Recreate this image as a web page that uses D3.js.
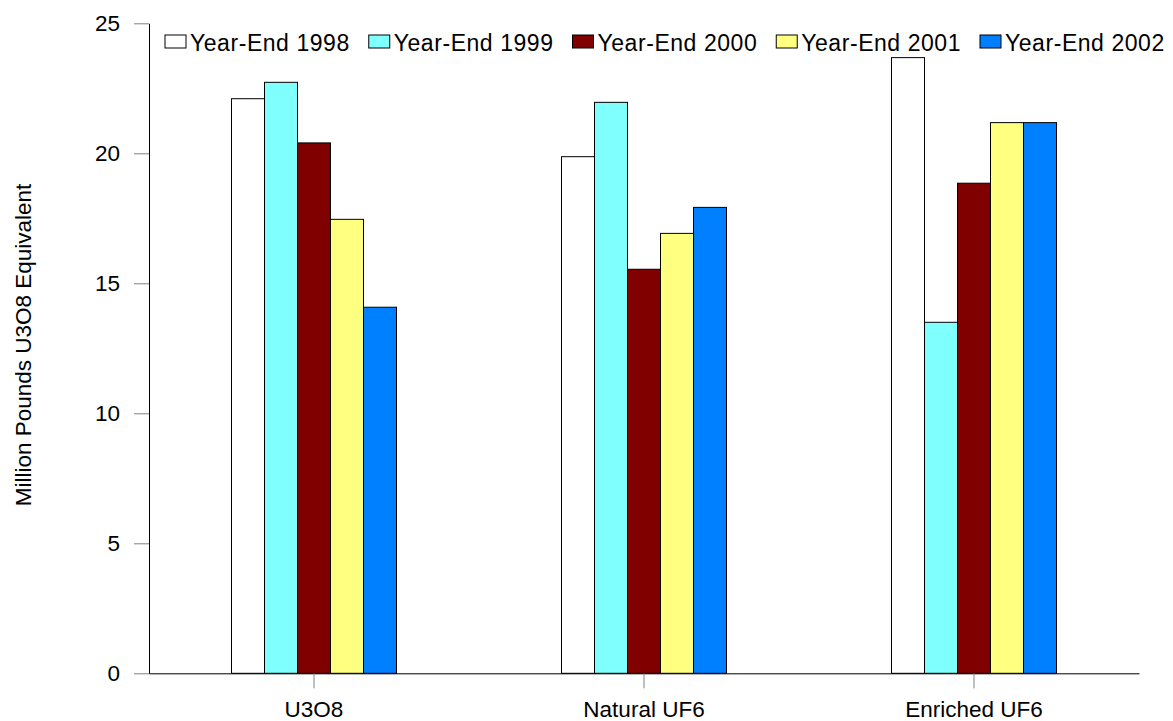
<!DOCTYPE html>
<html>
<head>
<meta charset="utf-8">
<script src="https://cdn.jsdelivr.net/npm/d3@7/dist/d3.min.js"></script>
<style>
  html, body { margin: 0; padding: 0; background: #fff; }
  svg { display: block; font-family: "Liberation Sans", Arial, Helvetica, sans-serif; }
</style>
</head>
<body>
<svg id="chart" width="1173" height="721"></svg>
<script>
const categories = ["U3O8", "Natural UF6", "Enriched UF6"];
const seriesNames = ["Year-End 1998", "Year-End 1999", "Year-End 2000", "Year-End 2001", "Year-End 2002"];
const seriesColors = ["#ffffff", "#80ffff", "#800000", "#ffff80", "#0080ff"];
const values1998 = [22.1, 19.87, 23.68];
const values1999 = [22.73, 21.96, 13.5];
const values2000 = [20.4, 15.54, 18.85];
const values2001 = [17.46, 16.92, 21.18];
const values2002 = [14.08, 17.92, 21.18];
const yTicks = [0, 5, 10, 15, 20, 25];
const yTitle = "Million Pounds U3O8 Equivalent";

const seriesValues = [values1998, values1999, values2000, values2001, values2002];

const svg = d3.select("#chart");
const plotLeft = 149, plotRight = 1139, plotTop = 23.3, plotBottom = 673.3;

const x0 = d3.scaleBand().domain(categories).range([plotLeft, plotRight]).paddingInner(0.5).paddingOuter(0.25);
const x1 = d3.scaleBand().domain(seriesNames).range([0, x0.bandwidth()]);
const y = d3.scaleLinear().domain([0, 25]).range([plotBottom, plotTop]);

// Bars
const groups = svg.append("g").selectAll("g")
  .data(categories)
  .join("g")
  .attr("transform", d => `translate(${x0(d)},0)`);

groups.selectAll("rect")
  .data((c, ci) => seriesNames.map((s, si) => ({ s, si, v: seriesValues[si][ci] })))
  .join("rect")
  .attr("x", d => x1(d.s))
  .attr("y", d => y(d.v))
  .attr("width", x1.bandwidth())
  .attr("height", d => y(0) - y(d.v))
  .attr("fill", d => seriesColors[d.si])
  .attr("stroke", "#000")
  .attr("stroke-width", 1);

// Y axis
const yAxis = svg.append("g")
  .attr("transform", `translate(${plotLeft},0)`)
  .call(d3.axisLeft(y).tickValues(yTicks).tickSize(15).tickPadding(14).tickSizeOuter(0));
yAxis.select(".domain").attr("stroke", "#000");
yAxis.selectAll(".tick line").attr("stroke", "#808080");
yAxis.selectAll(".tick text").attr("font-size", 22.5).attr("fill", "#000")
  .attr("font-family", "'Liberation Sans', Arial, sans-serif");

// X axis
const xAxis = svg.append("g")
  .attr("transform", `translate(0,${plotBottom})`)
  .call(d3.axisBottom(x0).tickSize(15).tickPadding(13).tickSizeOuter(0));
xAxis.select(".domain").attr("stroke", "#000");
xAxis.selectAll(".tick line").attr("stroke", "#808080");
xAxis.selectAll(".tick text").attr("font-size", 22.5).attr("fill", "#000")
  .attr("font-family", "'Liberation Sans', Arial, sans-serif");

// Y title
svg.append("text")
  .attr("transform", `translate(31,345) rotate(-90)`)
  .attr("text-anchor", "middle")
  .attr("font-size", 22.5)
  .attr("fill", "#000")
  .text(yTitle);

// Legend
const legend = svg.append("g").selectAll("g")
  .data(seriesNames)
  .join("g")
  .attr("transform", (d, i) => `translate(${165 + i * 203.75},35)`);
legend.append("rect")
  .attr("width", 21).attr("height", 13)
  .attr("fill", (d, i) => seriesColors[i])
  .attr("stroke", "#000").attr("stroke-width", 1);
legend.append("text")
  .attr("x", 25).attr("y", 15.5)
  .attr("font-size", 23)
  .attr("letter-spacing", 0.55)
  .attr("fill", "#000")
  .text(d => d);
</script>
</body>
</html>
